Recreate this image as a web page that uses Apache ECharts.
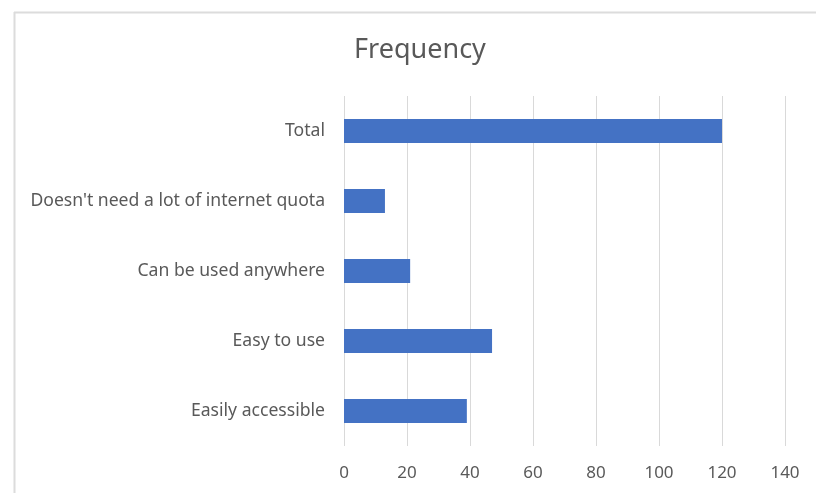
<!DOCTYPE html>
<html>
<head>
<meta charset="utf-8">
<script src="https://cdn.jsdelivr.net/npm/echarts@6/dist/echarts.min.js"></script>
<style>
html,body{margin:0;padding:0;background:#fff;}
#c{width:816px;height:493px;}
</style>
</head>
<body>
<div id="c"></div>
<script>
var categories = ["Total", "Doesn't need a lot of internet quota", "Can be used anywhere", "Easy to use", "Easily accessible"];
var frequency = [120, 13, 21, 47, 39];
var xTicks = {min: 0, max: 140, interval: 20};

var chart = echarts.init(document.getElementById('c'), null, {renderer: 'canvas'});
chart.setOption({
  animation: false,
  backgroundColor: '#ffffff',
  title: {
    text: 'Frequency',
    left: 415, top: 32, textAlign: 'center',
    textStyle: {fontFamily: 'Noto Sans', fontSize: 27, fontWeight: 'normal', color: '#595959'}
  },
  graphic: [
    {type: 'line', shape: {x1: 14, y1: 12.5, x2: 816, y2: 12.5}, style: {stroke: '#dcdcdc', lineWidth: 2}},
    {type: 'line', shape: {x1: 14.5, y1: 12, x2: 14.5, y2: 493}, style: {stroke: '#dcdcdc', lineWidth: 2}}
  ],
  grid: {left: 344, right: 31, top: 96, bottom: 47, containLabel: false},
  xAxis: {
    type: 'value', min: xTicks.min, max: xTicks.max, interval: xTicks.interval,
    axisLine: {show: false}, axisTick: {show: false},
    splitLine: {show: true, lineStyle: {color: '#d9d9d9', width: 1}},
    axisLabel: {fontFamily: 'Noto Sans', fontSize: 17, color: '#595959', margin: 19}
  },
  yAxis: {
    type: 'category', data: categories, inverse: true,
    axisLine: {show: false}, axisTick: {show: false},
    axisLabel: {fontFamily: 'Noto Sans', fontSize: 17.6, color: '#595959', margin: 19}
  },
  series: [{
    type: 'bar', data: frequency, barWidth: 24,
    itemStyle: {color: '#4472C4'}
  }]
});
</script>
</body>
</html>
